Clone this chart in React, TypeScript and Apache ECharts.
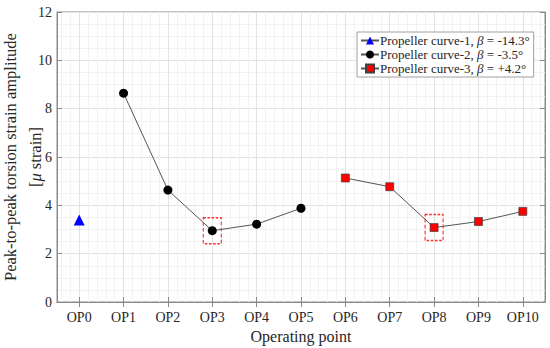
import React, { useEffect, useRef } from "react";
import * as echarts from "echarts";

const categories = ["OP0", "OP1", "OP2", "OP3", "OP4", "OP5", "OP6", "OP7", "OP8", "OP9", "OP10"];
const curve1Values = [3.39, null, null, null, null, null, null, null, null, null, null];
const curve2Values = [null, 8.64, 4.63, 2.95, 3.22, 3.88, null, null, null, null, null];
const curve3Values = [null, null, null, null, null, null, 5.13, 4.77, 3.08, 3.33, 3.75];
const curve2Highlight = [{ name: "OP3", value: 2.95 }];
const curve3Highlight = [{ name: "OP8", value: 3.08 }];
const yTicks = [0, 2, 4, 6, 8, 10, 12];
const outerMinor = [-0.4, -0.2, 10.2, 10.4];
const legendNames = ["c1", "c2", "c3"];
const legendLabels = [
  "Propeller curve-1, {i|β} = -14.3°",
  "Propeller curve-2, {i|β} = -3.5°",
  "Propeller curve-3, {i|β} = +4.2°",
];
const yTitleLine1 = "Peak-to-peak torsion strain amplitude";
const yTitleLine2 = "[{i|μ} strain]";
const xTitle = "Operating point";

const FONT = "Liberation Serif";
const LINE_COLOR = "#555555";

export default function App() {
  const ref = useRef<HTMLDivElement>(null);
  useEffect(() => {
    if (!ref.current) return;
    const chart = echarts.init(ref.current, undefined, { renderer: "svg" });
    const L = 57, R = 5, T = 12, B = 46;
    const plotW = 550 - L - R;
    const half = plotW / categories.length / 2;
    const midY = T + (348 - T - B) / 2;
    const box = (value: number, idx: number) => ({
      coord: [idx, value],
      symbol: "rect",
      symbolSize: [18, 26],
      itemStyle: { color: "rgba(0,0,0,0)", borderColor: "#ff2a2a", borderWidth: 1.3, borderType: [3, 2] },
      label: { show: false },
    });
    const styles = [
      { symbol: "triangle", size: 11, color: "#0000ff", border: 0, borderColor: "#000080" },
      { symbol: "circle", size: 9, color: "#000000", border: 0, borderColor: "#000000" },
      { symbol: "rect", size: 8, color: "#ff0000", border: 0.7, borderColor: "#404040" },
    ];
    const valuesList = [curve1Values, curve2Values, curve3Values];
    const highlights = [[], curve2Highlight, curve3Highlight];

    const legendSeries = legendNames.map((n, i) => ({
      name: n,
      type: "line",
      xAxisIndex: 0,
      yAxisIndex: 0,
      data: [],
      symbol: styles[i].symbol,
      symbolSize: styles[i].size - 1,
      lineStyle: { color: LINE_COLOR, width: 1 },
      itemStyle: { color: styles[i].color, borderColor: styles[i].borderColor, borderWidth: styles[i].border },
    }));
    const lineSeries = valuesList.map((vals, i) => ({
      name: "line" + i,
      type: "line",
      xAxisIndex: 0,
      yAxisIndex: 0,
      data: vals,
      symbol: "none",
      lineStyle: { color: LINE_COLOR, width: 1 },
      z: 3,
    }));
    const scatterSeries = valuesList.map((vals, i) => ({
      name: "pts" + i,
      type: "scatter",
      xAxisIndex: 0,
      yAxisIndex: 0,
      data: vals.map((v) => (v == null ? "-" : v)),
      symbol: styles[i].symbol,
      symbolSize: styles[i].size,
      itemStyle: { color: styles[i].color, borderColor: styles[i].borderColor, borderWidth: styles[i].border, opacity: 1 },
      markPoint: highlights[i].length
        ? { silent: true, data: highlights[i].map((d: any) => box(d.value, categories.indexOf(d.name))) }
        : undefined,
      z: 4,
    }));

    const axisGray = "#8a8a8a";
    const textColor = "#262626";
    const option: any = {
      animation: false,
      textStyle: { fontFamily: FONT },
      grid: [
        { left: L, right: R, top: T, bottom: B, show: true, borderColor: axisGray, borderWidth: 1, backgroundColor: "rgba(0,0,0,0)", outerBoundsMode: "none", containLabel: false },
        { left: L + half, right: R + half, top: T, bottom: B, show: false, outerBoundsMode: "none", containLabel: false },
      ],
      graphic: [
        {
          type: "text",
          x: 10,
          y: midY,
          rotation: Math.PI / 2,
          style: {
            text: yTitleLine1,
            fill: textColor,
            fontSize: 16.5,
            fontFamily: FONT,
            align: "center",
            verticalAlign: "middle",
          },
        },
        {
          type: "text",
          x: 35,
          y: midY,
          rotation: Math.PI / 2,
          style: {
            text: yTitleLine2,
            fill: textColor,
            fontSize: 16.5,
            fontFamily: FONT,
            align: "center",
            verticalAlign: "middle",
            rich: { i: { fontStyle: "italic", fontSize: 16.5, fontFamily: FONT, fill: textColor } },
          },
        },
      ],
      xAxis: [
        {
          type: "category",
          gridIndex: 0,
          data: categories,
          boundaryGap: true,
          axisLine: { show: true, lineStyle: { color: axisGray } },
          axisTick: { show: true, alignWithLabel: true, inside: true, length: 5, lineStyle: { color: axisGray } },
          axisLabel: { color: textColor, fontSize: 14, fontFamily: FONT, margin: 8, interval: 0 },
          splitLine: { show: false },
          name: xTitle,
          nameLocation: "middle",
          nameGap: 24,
          nameTextStyle: { color: textColor, fontSize: 16, fontFamily: FONT },
        },
        {
          type: "category",
          gridIndex: 0,
          position: "top",
          data: categories,
          boundaryGap: true,
          axisLine: { show: true, lineStyle: { color: axisGray } },
          axisTick: { show: true, alignWithLabel: true, inside: true, length: 5, interval: 0, lineStyle: { color: axisGray } },
          axisLabel: { show: false, interval: 0 },
          splitLine: { show: false },
        },
        {
          type: "value",
          gridIndex: 1,
          min: 0,
          max: 10,
          interval: 1,
          axisLine: { show: false },
          axisTick: { show: false },
          axisLabel: { show: false },
          splitLine: { show: true, lineStyle: { color: "#e2e2e2", width: 1 } },
          minorTick: { show: false, splitNumber: 5 },
          minorSplitLine: { show: true, lineStyle: { color: "#f2f2f2", width: 1 } },
        },
      ],
      yAxis: [
        {
          type: "value",
          gridIndex: 0,
          min: 0,
          max: 12,
          interval: 2,
          axisLine: { show: true, lineStyle: { color: axisGray } },
          axisTick: { show: true, inside: true, length: 5, lineStyle: { color: axisGray } },
          axisLabel: {
            color: textColor,
            fontSize: 14,
            fontFamily: FONT,
            margin: 5,
            formatter: (v: number) => (yTicks.includes(v) ? String(v) : ""),
          },
          splitLine: { show: true, lineStyle: { color: "#e2e2e2", width: 1 } },
          minorTick: { show: false, splitNumber: 4 },
          minorSplitLine: { show: true, lineStyle: { color: "#f2f2f2", width: 1 } },
        },
        {
          type: "value",
          gridIndex: 0,
          position: "right",
          min: 0,
          max: 12,
          interval: 2,
          axisLine: { show: true, lineStyle: { color: axisGray } },
          axisTick: { show: true, inside: true, length: 5, lineStyle: { color: axisGray } },
          axisLabel: { show: false },
          splitLine: { show: false },
        },
        {
          type: "value",
          gridIndex: 1,
          min: 0,
          max: 12,
          show: false,
          splitLine: { show: false },
        },
      ],
      legend: {
        orient: "vertical",
        left: 357,
        top: 32,
        z: 10,
        padding: [2, 4, 2, 3],
        itemGap: 1,
        itemWidth: 18,
        itemHeight: 10,
        backgroundColor: "#ffffff",
        borderColor: "#a0a0a0",
        borderWidth: 1,
        borderRadius: 0,
        data: legendNames,
        formatter: (name: string) => legendLabels[legendNames.indexOf(name)],
        textStyle: {
          color: textColor,
          fontSize: 13,
          fontFamily: FONT,
          padding: [0, 0, 0, -4],
          rich: { i: { fontStyle: "italic", fontSize: 13, fontFamily: FONT, color: textColor } },
        },
      },
      series: [
        {
          type: "custom",
          xAxisIndex: 2,
          yAxisIndex: 2,
          silent: true,
          z: 0,
          data: outerMinor.map((v) => [v, 0]),
          renderItem: (params: any, api: any) => {
            const x = api.value(0);
            const p0 = api.coord([x, 0]);
            const p1 = api.coord([x, 12]);
            return {
              type: "line",
              shape: { x1: p0[0], y1: p0[1], x2: p1[0], y2: p1[1] },
              style: { stroke: "#f2f2f2", lineWidth: 1 },
            };
          },
        },
        ...legendSeries,
        ...lineSeries,
        ...scatterSeries,
      ],
    };
    chart.setOption(option);
    return () => chart.dispose();
  }, []);
  return <div ref={ref} style={{ width: 550, height: 348, position: "absolute", left: 0, top: 0 }} />;
}
